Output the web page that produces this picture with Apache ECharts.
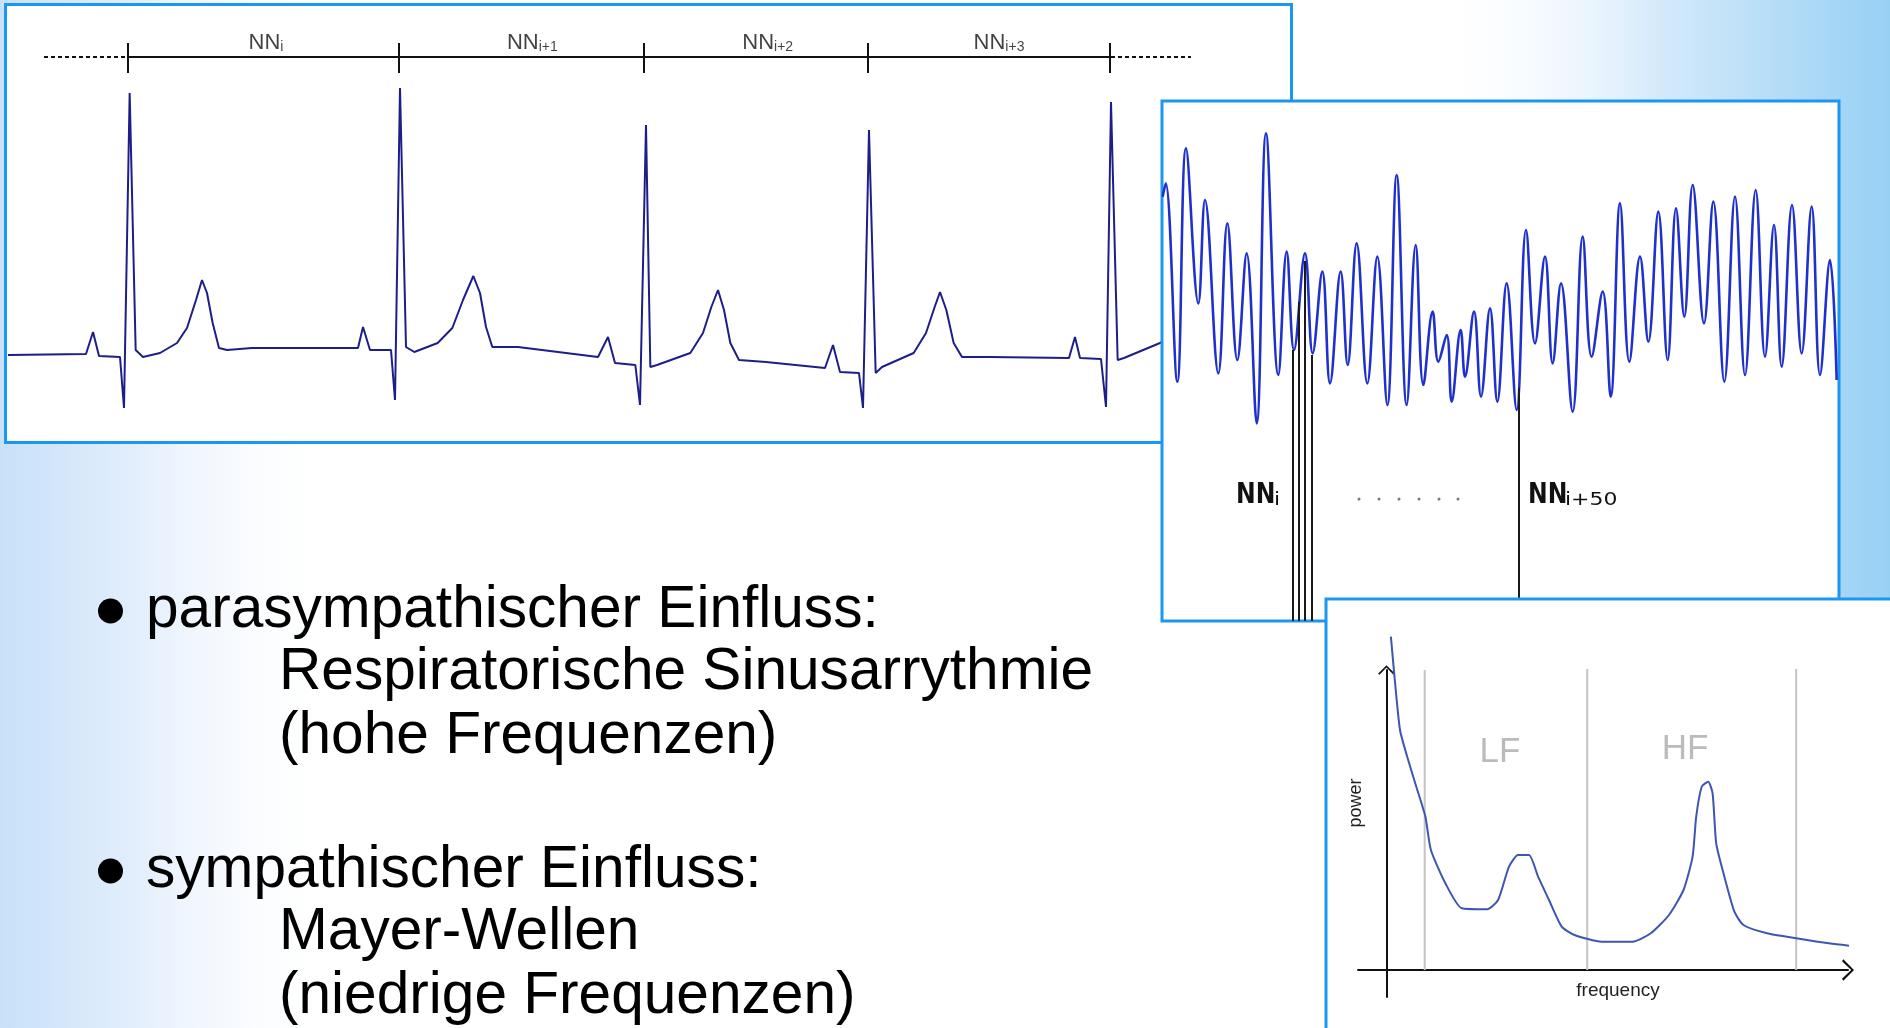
<!DOCTYPE html>
<html>
<head>
<meta charset="utf-8">
<script src="https://cdn.jsdelivr.net/npm/echarts@6/dist/echarts.min.js"></script>
<style>
html,body{margin:0;padding:0;background:#fff;overflow:hidden;}
#main{width:1890px;height:1028px;}
</style>
</head>
<body>
<div id="main"></div>
<script>
// ---------------- ECG trace (time in ms, voltage in mV) ----------------
const ecgTimeMs = [6, 240, 261, 279, 342, 354, 371, 389, 411, 462, 513, 543, 570, 588, 603, 620, 639, 663, 738, 1056,
  1071, 1092, 1155, 1167, 1182, 1200, 1225, 1295, 1339, 1371, 1402, 1422, 1440, 1459, 1536, 1776, 1806, 1827, 1888, 1902,
  1920, 1933, 1953, 2053, 2091, 2116, 2136, 2154, 2173, 2199, 2280, 2457, 2481, 2502, 2559, 2571, 2589, 2609, 2628, 2723,
  2760, 2786, 2802, 2821, 2843, 2868, 2949, 3189, 3207, 3222, 3285, 3300, 3315, 3335, 3354, 3462, 3507];
const ecgMillivolt = [0, 0.005, 0.115, -0.005, -0.01, -0.265, 1.31, 0.025, -0.01, 0.01, 0.06, 0.135, 0.275, 0.375, 0.31, 0.16, 0.035, 0.025, 0.035, 0.035,
  0.14, 0.025, 0.025, -0.225, 1.335, 0.04, 0.015, 0.06, 0.135, 0.275, 0.395, 0.31, 0.14, 0.04, 0.04, -0.01, 0.09, -0.04, -0.05, -0.25,
  1.15, -0.06, -0.05, 0.01, 0.11, 0.24, 0.325, 0.225, 0.06, -0.025, -0.035, -0.065, 0.05, -0.085, -0.09, -0.265, 1.125, -0.09, -0.06, 0.01,
  0.11, 0.24, 0.315, 0.225, 0.06, -0.01, -0.01, -0.015, 0.09, -0.015, -0.02, -0.26, 1.265, -0.025, -0.015, 0.06, 0.1];
const beatTimesMs = [366, 1179, 1914, 2586, 3312];
const ecgLeadDashMs = [[114, 360], [3315, 3555]];
const intervalLabelTimesMs = [780, 1579, 2285, 2979];
const intervalSubscripts = ['i', 'i+1', 'i+2', 'i+3'];
const intervalLevelMv = 1.49;
const intervalTickMv = [1.41, 1.56];

// ---------------- NN interval series (sample index, NN in ms) ----------------
const nnSample = [2, 11, 46, 72, 109, 129, 169, 196, 226, 254, 284, 312, 349, 374, 396, 429, 452, 481, 504, 536,
  557, 584, 616, 646, 676, 704, 734, 761, 784, 812, 829, 854, 869, 896, 909, 936, 957, 984, 1006, 1034,
  1064, 1092, 1119, 1149, 1172, 1197, 1232, 1262, 1289, 1322, 1346, 1374, 1402, 1434, 1459, 1489, 1517, 1542, 1567, 1592,
  1626, 1654, 1687, 1719, 1749, 1781, 1809, 1836, 1859, 1890, 1919, 1949, 1974, 2004, 2024];
const nnValueMs = [1273, 1313, 718, 1418, 953, 1263, 743, 1193, 783, 1103, 593, 1463, 738, 1108, 813, 1103, 803, 1048, 713, 1048,
  768, 1133, 713, 1093, 648, 1338, 648, 1128, 708, 928, 778, 858, 658, 873, 733, 928, 673, 938, 658, 1013,
  633, 1173, 833, 1093, 773, 1013, 628, 1153, 793, 988, 673, 1253, 778, 1093, 838, 1228, 783, 1238, 913, 1308,
  893, 1258, 718, 1273, 738, 1293, 793, 1188, 763, 1248, 803, 1243, 738, 1083, 723];
const nnMarkerSamples = [393, 411, 429, 450, 1071];
const nnMarkerTopMs = [813, 958, 1080, 798, 700];
const nnMarkerLabels = ['i', 'i+50'];
const ellipsisSamples = [591, 651, 711, 771, 831, 888];
const ellipsisLevelMs = 366;

// ---------------- Power spectrum (frequency in Hz, power a.u.) ----------------
const specFreqHz = [0.0044, 0.008, 0.0135, 0.0207, 0.0298, 0.0389, 0.0444, 0.0589, 0.0753, 0.1007,
  0.1116, 0.1225, 0.1316, 0.1425, 0.1516, 0.1625, 0.1752, 0.188, 0.2152, 0.2461,
  0.2643, 0.2825, 0.297, 0.3061, 0.3097, 0.3152, 0.3217, 0.3261, 0.3297, 0.337,
  0.3479, 0.357, 0.3806, 0.4097, 0.4424, 0.486];
const specPower = [3.333, 2.933, 2.40, 2.133, 1.833, 1.533, 1.20, 0.867, 0.617, 0.607,
  0.70, 1.033, 1.15, 1.15, 0.933, 0.70, 0.433, 0.35, 0.283, 0.283,
  0.367, 0.55, 0.80, 1.133, 1.533, 1.833, 1.883, 1.767, 1.267, 0.967,
  0.583, 0.45, 0.367, 0.317, 0.267, 0.217];
const bandEdgeHz = [0.0382, 0.2007, 0.4097];
const bandEdgeTop = [3.0, 3.02, 3.07];
const bandNames = ['LF', 'HF'];

// ---------------- Slide text ----------------
const bulletTexts = ['parasympathischer Einfluss:', 'Respiratorische Sinusarrythmie', '(hohe Frequenzen)',
  'sympathischer Einfluss:', 'Mayer-Wellen', '(niedrige Frequenzen)'];

// ================= layout / style =================
const FONT = "'Liberation Sans', Arial, Helvetica, sans-serif";
const DV = "'DejaVu Sans', Verdana, sans-serif";
const PANEL_BLUE = '#1b97f2';
const textLayout = [[146, 611], [279, 673], [279, 737], [146, 871], [279, 933], [279, 997]];
const bulletDots = [[110.5, 611], [110.5, 871]];
const nnLabelLayout = [[1236, 1274], [1528, 1565]];
const bandLabelLayout = [[1500, 752], [1685, 749]];
const chevron = 'path://M0,10 L10,0 L20,10 L18.2,11.2 L10,2.6 L1.8,11.2 Z';

function seg(idx, pts, color, width, type, z) {
  return {
    type: 'line', xAxisIndex: idx, yAxisIndex: idx, data: pts, symbol: 'none', silent: true,
    z: z, lineStyle: { color: color, width: width, type: type }, animation: false
  };
}

const series = [];
// ECG
series.push({
  type: 'line', xAxisIndex: 0, yAxisIndex: 0, symbol: 'none', silent: true, z: 2,
  data: ecgTimeMs.map((t, i) => [t, ecgMillivolt[i]]),
  lineStyle: { color: '#1e1e88', width: 2 }
});
series.push(seg(0, [[beatTimesMs[0], intervalLevelMv], [beatTimesMs[beatTimesMs.length - 1], intervalLevelMv]], '#111', 2, 'solid', 2));
beatTimesMs.forEach(t => series.push(seg(0, [[t, intervalTickMv[0]], [t, intervalTickMv[1]]], '#111', 2, 'solid', 2)));
ecgLeadDashMs.forEach(r => series.push(seg(0, [[r[0], intervalLevelMv], [r[1], intervalLevelMv]], '#111', 2, [4, 3], 2)));
series.push({
  type: 'scatter', xAxisIndex: 0, yAxisIndex: 0, symbolSize: 0, silent: true, z: 2,
  data: intervalLabelTimesMs.map(t => [t, intervalLevelMv]),
  label: {
    show: true, position: 'top', distance: 3,
    formatter: p => '{a|NN}{b|' + intervalSubscripts[p.dataIndex] + '}',
    rich: {
      a: { fontSize: 22, fontFamily: FONT, color: '#111', lineHeight: 24, verticalAlign: 'bottom' },
      b: { fontSize: 14, fontFamily: FONT, color: '#111', lineHeight: 14, verticalAlign: 'bottom' }
    }
  }
});
// NN series
series.push({
  type: 'line', xAxisIndex: 1, yAxisIndex: 1, symbol: 'none', silent: true, z: 4, smooth: 0.4,
  data: nnSample.map((s, i) => [s, nnValueMs[i]]),
  lineStyle: { color: '#1f30cc', width: 2.6 }
});
nnMarkerSamples.forEach((s, i) => series.push(seg(1, [[s, 0], [s, nnMarkerTopMs[i]]], '#1a1a1a', 2, 'solid', 4)));
series.push({
  type: 'scatter', xAxisIndex: 1, yAxisIndex: 1, symbolSize: 3, silent: true, z: 4,
  itemStyle: { color: '#555' },
  data: ellipsisSamples.map(s => [s, ellipsisLevelMs])
});
// Spectrum
bandEdgeHz.forEach((f, i) => series.push(seg(2, [[f, 0], [f, bandEdgeTop[i]]], '#c4c4c4', 2, 'solid', 6)));
series.push({
  type: 'line', xAxisIndex: 2, yAxisIndex: 2, symbol: 'none', silent: true, z: 7, smooth: 0.2, clip: false,
  data: specFreqHz.map((f, i) => [f, specPower[i]]),
  lineStyle: { color: '#3d56b2', width: 2 }
});

const hiddenAxis = (g, min, max) => ({ type: 'value', gridIndex: g, min: min, max: max, show: false });
const arrowAxis = (g, min, max, size) => ({
  type: 'value', gridIndex: g, min: min, max: max, z: 6,
  axisLine: { show: true, onZero: true, symbol: ['none', chevron], symbolSize: size, lineStyle: { color: '#111', width: 2 } },
  axisTick: { show: false }, axisLabel: { show: false }, splitLine: { show: false }
});

const graphics = [
  { type: 'rect', z: 0, silent: true, shape: { x: 0, y: 0, width: 1890, height: 1028 }, style: { fill: '#ffffff' } },
  { type: 'rect', z: 0, silent: true, shape: { x: 0, y: 0, width: 340, height: 1028 },
    style: { fill: { type: 'linear', x: 0, y: 0, x2: 1, y2: 0, colorStops: [
      { offset: 0, color: '#c8e1f9' }, { offset: 0.4, color: '#e2eefc' }, { offset: 1, color: 'rgba(255,255,255,0)' }] } } },
  { type: 'rect', z: 0, silent: true, shape: { x: 1430, y: 0, width: 460, height: 1028 },
    style: { fill: { type: 'linear', x: 0, y: 0, x2: 1, y2: 0, colorStops: [
      { offset: 0, color: 'rgba(255,255,255,0)' }, { offset: 0.5, color: '#d4eafb' }, { offset: 1, color: '#98d0f4' }] } } },
  { type: 'rect', z: 1, silent: true, shape: { x: 5.5, y: 4.5, width: 1286, height: 438 }, style: { fill: '#fff', stroke: PANEL_BLUE, lineWidth: 3 } },
  { type: 'rect', z: 3, silent: true, shape: { x: 1162, y: 101, width: 677, height: 520 }, style: { fill: '#fff', stroke: PANEL_BLUE, lineWidth: 3 } },
  { type: 'rect', z: 5, silent: true, shape: { x: 1326, y: 599, width: 600, height: 500 }, style: { fill: '#fff', stroke: PANEL_BLUE, lineWidth: 3 } },
  { type: 'text', z: 7, silent: true, x: 1356, y: 803, rotation: Math.PI / 2, style: { text: 'power', fontSize: 18, fontFamily: FONT, fill: '#222', align: 'center', verticalAlign: 'middle' } },
  { type: 'text', z: 7, silent: true, x: 1618, y: 991, style: { text: 'frequency', fontSize: 19, fontFamily: FONT, fill: '#222', align: 'center', verticalAlign: 'middle' } }
];
// NN marker labels: "NN" + subscript
nnMarkerLabels.forEach((sub, i) => {
  graphics.push({ type: 'text', z: 4, silent: true, x: nnLabelLayout[i][0], y: 495.3, scaleX: 0.84,
    style: { text: 'NN', fontSize: 28, fontWeight: 'bold', fontFamily: DV, fill: '#111', align: 'left', verticalAlign: 'middle' } });
  graphics.push({ type: 'text', z: 4, silent: true, x: nnLabelLayout[i][1], y: 500.8, scaleX: 1.22,
    style: { text: sub, fontSize: 18, fontFamily: DV, fill: '#111', align: 'left', verticalAlign: 'middle' } });
});
bandNames.forEach((n, i) => graphics.push({ type: 'text', z: 7, silent: true, x: bandLabelLayout[i][0], y: bandLabelLayout[i][1],
  style: { text: n, fontSize: 35, fontFamily: FONT, fill: '#bbbbbb', align: 'center', verticalAlign: 'middle' } }));
bulletDots.forEach(d => graphics.push({ type: 'circle', z: 10, silent: true, shape: { cx: d[0], cy: d[1], r: 12.5 }, style: { fill: '#000' } }));
bulletTexts.forEach((t, i) => graphics.push({
  type: 'text', z: 10, silent: true, x: textLayout[i][0], y: textLayout[i][1],
  style: { text: t, fontSize: 58.6, fontFamily: FONT, fill: '#000', align: 'left', verticalAlign: 'middle' }
}));

const option = {
  animation: false,
  backgroundColor: '#ffffff',
  grid: [
    { left: 6, top: 4, width: 1286, height: 438 },
    { left: 1162, top: 101, width: 677, height: 520 },
    { left: 1358, top: 670, width: 490, height: 327 }
  ],
  xAxis: [hiddenAxis(0, 0, 3858), hiddenAxis(1, 0, 2031), arrowAxis(2, -0.0285, 0.4615, [22, 12])],
  yAxis: [hiddenAxis(0, -0.435, 1.755), hiddenAxis(1, 0, 1560), arrowAxis(2, -0.27, 3.0, [17, 13])],
  graphic: { elements: graphics },
  series: series
};

const chart = echarts.init(document.getElementById('main'), null, { renderer: 'canvas' });
chart.setOption(option);
</script>
</body>
</html>
